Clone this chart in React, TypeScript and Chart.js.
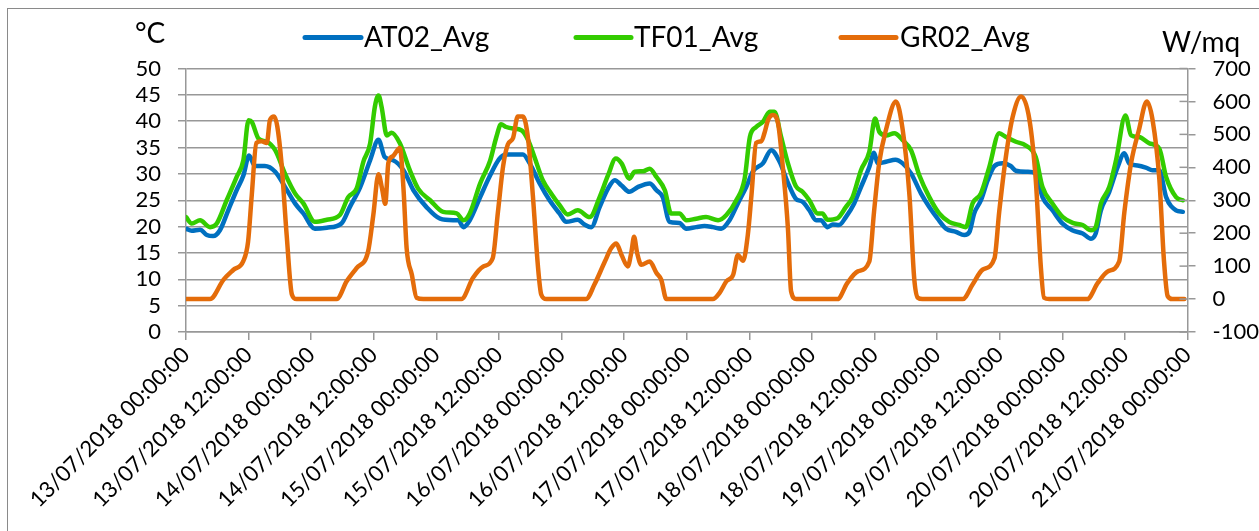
import React, { useEffect, useRef } from "react";
import { Chart, registerables } from "chart.js";
Chart.register(...registerables);

// ---- data (hours since 13/07/2018 00:00) ----
const atHours = [0, 1.1, 2.7, 4, 5.2, 6.5, 8.1, 9.7, 11, 12.1, 13.2, 15.1, 17.1, 19, 20.9, 22.5, 24.7, 27, 29.8, 31.4, 33.4, 35.3, 36.9, 38.1, 39.7, 41.7, 43.6, 46.1, 48.7, 51.2, 52.2, 53.2, 54.4, 56.4, 58.2, 60.1, 61.4, 64.6, 65.9, 67.8, 69.7, 71.6, 72.9, 75.1, 76.4, 77.7, 79.3, 80.9, 82.2, 83.5, 85, 86.6, 88.9, 90.2, 91.4, 92.7, 94.6, 95.9, 97.8, 99.4, 101, 102.6, 104.2, 105.8, 107.4, 108.7, 110.6, 112.2, 113.8, 115.4, 116.9, 118.2, 119.5, 120.8, 121.7, 123, 124, 125.2, 126.5, 128.1, 129.4, 131, 131.9, 132.6, 134.2, 136, 137.4, 139, 140.9, 142.5, 144.1, 145.7, 147.6, 149.2, 150.2, 151.1, 152.4, 153.7, 155, 156.6, 158.1, 159.1, 161.3, 162.9, 164.2, 166.1, 168, 169.9, 171.9, 173.5, 174.4, 175.4, 177, 178.6, 179.9, 180.8, 182.4, 184, 185.3, 186.6, 187.9, 189.8, 191.1];
const atValues = [19.6, 19.2, 19.4, 18.4, 18.2, 19.3, 23.1, 26.9, 29.7, 33.5, 31.5, 31.5, 30.4, 27.5, 24.4, 22.5, 19.6, 19.8, 20.6, 23.7, 27.5, 32.6, 36.5, 33.2, 32.6, 30.7, 26.9, 23.7, 21.5, 21.2, 21.2, 19.9, 21.2, 25.6, 29.5, 32.9, 33.7, 33.7, 32, 28.2, 25, 22.5, 20.9, 21.3, 20.4, 19.9, 23.7, 27.2, 28.8, 27.8, 26.6, 27.5, 28.2, 26.9, 25.6, 20.9, 20.7, 19.6, 19.9, 20.1, 19.9, 19.6, 21.2, 24.4, 27.5, 30.5, 32, 34.5, 32.3, 28.3, 25.3, 24.7, 23.1, 21.2, 21.2, 19.9, 20.4, 20.3, 21.8, 24.4, 27.5, 31.3, 34, 32, 32.3, 32.7, 32, 30.1, 26.3, 23.7, 21.5, 19.6, 19, 18.4, 19, 22.5, 25, 28.8, 31.5, 32, 31.5, 30.6, 30.4, 30.1, 25.6, 23.1, 20.6, 19.3, 18.7, 17.7, 18.7, 23.1, 26.6, 31.3, 33.9, 32, 31.6, 31.2, 30.7, 30.7, 25.6, 23.1, 22.8];

const tfHours = [0, 1.1, 2.7, 4.6, 5.9, 7.8, 9.7, 11, 12, 12.6, 13.9, 15.5, 17.1, 19, 20.9, 22.5, 24.7, 27, 29.5, 31.1, 32.7, 34, 35.3, 36.2, 36.9, 37.5, 38.5, 39.4, 41, 42.9, 44.5, 46.8, 49.3, 51.9, 53.2, 54.4, 56.4, 58.3, 59.5, 60.4, 61.4, 62.7, 64.3, 65.6, 66.8, 68.4, 70, 71.6, 73.2, 75.1, 77.4, 79.3, 80.9, 82.4, 83.5, 85, 86, 87.6, 88.9, 90.2, 91.8, 93, 94.6, 95.9, 97.8, 99.7, 102, 103.6, 105.5, 107.1, 108.1, 109.3, 110.6, 111.9, 112.8, 114.1, 115.4, 116.9, 118.2, 119.5, 121.1, 122, 123, 124.9, 126.5, 127.8, 129.4, 131, 132.1, 132.9, 134.2, 135.8, 137.4, 139, 140.6, 142.5, 144.4, 146.3, 148.2, 149.5, 150.8, 152.4, 154, 155.9, 157.2, 159.1, 161, 162.9, 164.2, 166.1, 168.1, 170, 171.9, 173.5, 174.4, 175.4, 177, 178.3, 180.1, 181.2, 182.7, 184.7, 186.6, 187.9, 189.8, 191.1];
const tfValues = [21.8, 20.6, 21.2, 19.9, 20.6, 25, 29.4, 32.6, 40.2, 39.9, 36.7, 36.1, 34.5, 30, 26.3, 24.4, 20.9, 21.3, 22.2, 25.6, 27.2, 32.3, 35.8, 42.7, 44.9, 42.7, 37.3, 37.8, 35.8, 30.7, 27.2, 25, 22.8, 22.5, 21.2, 22.5, 28.2, 32.5, 37, 39.4, 38.9, 38.6, 38.3, 36.4, 33.2, 28.8, 26.3, 24.1, 22.3, 23.1, 21.8, 25.6, 29.7, 32.9, 32, 29.1, 30.4, 30.5, 31, 29.4, 26.9, 22.5, 22.5, 21.2, 21.5, 21.8, 21.2, 22.2, 25, 29.1, 37, 38.9, 39.9, 41.8, 41.8, 37, 32, 27.7, 26.6, 25, 22.5, 22.5, 21.3, 21.6, 23.7, 25.6, 30.7, 34.2, 40.5, 38, 37.3, 37.7, 36.4, 34.5, 29.7, 25.6, 22.5, 20.9, 20.3, 19.9, 24.4, 26.3, 31.3, 37.7, 37, 36.1, 35.4, 33.2, 27.5, 24.4, 21.8, 20.7, 20.3, 19.3, 19.9, 24.4, 27.5, 32.6, 41.1, 37.3, 37, 35.8, 34.8, 29.4, 25.6, 25];

const grHours = [0, 4.6, 7.2, 9.1, 11, 11.9, 12.6, 13.5, 14.5, 15.5, 16.1, 16.9, 17.5, 18.3, 19.3, 20.3, 21.2, 28.9, 30.8, 32.7, 34.9, 35.9, 36.9, 37.6, 38.2, 38.8, 39.7, 41, 41.7, 42.3, 43.3, 44.2, 45.5, 52.8, 55, 57, 58.8, 59.8, 60.8, 61.7, 62.7, 63.6, 64.6, 65.6, 66.5, 67.5, 68.1, 69.1, 76.7, 78.3, 80.3, 81.5, 82.5, 83.5, 84.7, 85.4, 85.9, 86.5, 87.3, 88.9, 90.2, 91.1, 92.1, 101, 102.3, 103.6, 104.9, 105.8, 106.8, 107.7, 108.4, 109.3, 110.3, 110.9, 111.6, 112.5, 113.5, 114.4, 115.4, 116, 117, 124.9, 126.8, 128.8, 131, 131.9, 132.9, 134.2, 136.1, 137.4, 138.7, 139.6, 140.3, 141.2, 148.9, 150.8, 152.7, 155, 155.9, 157.2, 158.5, 160.1, 161.7, 162.9, 163.9, 164.5, 165.5, 172.8, 174.8, 176.7, 178.9, 179.9, 181.2, 182.7, 184.2, 185.3, 186.6, 187.5, 188.2, 189.1, 191.4];
const grValues = [0, 0, 59, 89, 116, 174, 314, 474, 479, 474, 544, 554, 524, 414, 194, 14, 0, 0, 54, 94, 144, 254, 379, 334, 289, 414, 434, 459, 334, 154, 74, 4, 0, 0, 64, 99, 124, 264, 404, 469, 489, 554, 554, 484, 314, 94, 14, 0, 0, 44, 114, 154, 169, 134, 99, 144, 189, 139, 104, 114, 79, 59, 0, 0, 19, 54, 74, 134, 116, 194, 314, 474, 479, 504, 544, 559, 534, 404, 214, 24, 0, 0, 49, 84, 114, 264, 414, 514, 600, 514, 314, 64, 4, 0, 0, 44, 89, 124, 264, 434, 554, 615, 544, 364, 94, 4, 0, 0, 49, 84, 114, 264, 414, 514, 600, 544, 364, 114, 9, 0, 0];

const seriesLabels = ["AT02_Avg", "TF01_Avg", "GR02_Avg"];
const seriesColors = ["#0070C0", "#33CC00", "#E46C0A"];
const leftTitle = "°C";
const rightTitle = "W/mq";
const startDay = 13;

function tickLabel(h: number): string {
  const day = startDay + Math.floor(h / 24);
  const hr = h % 24;
  return `${day}/07/2018 ${String(hr).padStart(2, "0")}:00:00`;
}

const FONT = "Lato, 'Open Sans', sans-serif";
const GRID = "#989898";
const CW = 1300;
const CH = 600;

const decorPlugin = {
  id: "decor",
  afterDraw(chart: any) {
    const ctx = chart.ctx;
    const area = chart.chartArea;
    ctx.save();
    const yR = chart.scales.yR;
    ctx.strokeStyle = GRID;
    ctx.lineWidth = 1.5;
    yR.ticks.forEach((t: any) => {
      const y = yR.getPixelForValue(t.value);
      ctx.beginPath();
      ctx.moveTo(area.right - 8, y);
      ctx.lineTo(area.right, y);
      ctx.stroke();
    });
    ctx.fillStyle = "#000";
    ctx.textBaseline = "alphabetic";
    ctx.textAlign = "left";
    ctx.font = `28px ${FONT}`;
    ctx.fillText(leftTitle, 127, 34);
    ctx.fillText(rightTitle, 1154, 43);
    const items = [
      { x0: 297, x1: 353, tx: 356 },
      { x0: 568, x1: 623, tx: 626 },
      { x0: 833, x1: 888, tx: 892 },
    ];
    items.forEach((it, i) => {
      ctx.strokeStyle = seriesColors[i];
      ctx.lineWidth = 5;
      ctx.lineCap = "round";
      ctx.beginPath();
      ctx.moveTo(it.x0, 28.5);
      ctx.lineTo(it.x1, 28.5);
      ctx.stroke();
      ctx.fillStyle = "#000";
      ctx.fillText(seriesLabels[i], it.tx, 38);
    });
    ctx.restore();
  },
};

export default function App() {
  const ref = useRef<HTMLCanvasElement>(null);
  useEffect(() => {
    if (!ref.current) return;
    const mk = (hs: number[], vs: number[]) => hs.map((h, i) => ({ x: h, y: vs[i] }));
    const common = {
      pointRadius: 0,
      borderWidth: 4.5,
      fill: false,
      cubicInterpolationMode: "monotone" as const,
      borderJoinStyle: "round" as const,
      borderCapStyle: "round" as const,
    };
    const tickFont = { family: FONT, size: 22, lineHeight: 1 };
    const chart = new Chart(ref.current, {
      type: "line",
      data: {
        datasets: [
          { ...common, label: seriesLabels[0], data: mk(atHours, atValues), borderColor: seriesColors[0], yAxisID: "y", order: 3 },
          { ...common, label: seriesLabels[1], data: mk(tfHours, tfValues), borderColor: seriesColors[1], yAxisID: "y", order: 2 },
          { ...common, label: seriesLabels[2], data: mk(grHours, grValues), borderColor: seriesColors[2], yAxisID: "yR", order: 1 },
        ],
      },
      options: {
        animation: false,
        responsive: false,
        maintainAspectRatio: false,
        layout: { padding: { top: 59.5, left: 0, right: 0, bottom: 0 } },
        plugins: { legend: { display: false }, tooltip: { enabled: false }, title: { display: false } },
        scales: {
          x: {
            type: "linear",
            min: 0,
            max: 192,
            ticks: {
              stepSize: 12,
              autoSkip: false,
              maxRotation: 45,
              minRotation: 45,
              padding: 2,
              color: "#000",
              font: { family: FONT, size: 22 },
              callback: (v: any) => tickLabel(Number(v)),
            },
            grid: { drawOnChartArea: false, drawTicks: true, tickLength: 8, color: GRID, lineWidth: 1.5 },
            border: { color: GRID, width: 1.5 },
            afterFit: (s: any) => { s.height = CH - 323; },
          },
          y: {
            position: "left",
            min: 0,
            max: 50,
            ticks: { stepSize: 5, autoSkip: false, padding: 17, color: "#000", font: tickFont },
            grid: { color: GRID, lineWidth: 1.5, tickLength: 8 },
            border: { color: GRID, width: 1.5 },
            afterFit: (s: any) => { s.width = 178; },
          },
          yR: {
            position: "right",
            min: -100,
            max: 700,
            ticks: { stepSize: 100, autoSkip: false, padding: 17, color: "#000", font: tickFont },
            grid: { drawOnChartArea: false, tickLength: 8, color: GRID, lineWidth: 1.5 },
            border: { color: GRID, width: 1.5 },
            afterFit: (s: any) => { s.width = CW - 1179.5; },
          },
        },
      },
      plugins: [decorPlugin],
    });
    return () => chart.destroy();
  }, []);

  return (
    <div style={{ position: "fixed", left: 0, top: 0, width: 1259, height: 531, overflow: "hidden", background: "#fff" }}>
      <div style={{ position: "absolute", left: 7, top: 8, width: CW, height: CH, border: "1px solid #8a8a8a" }}>
        <canvas ref={ref} width={CW} height={CH} style={{ display: "block", width: CW, height: CH }} />
      </div>
    </div>
  );
}
